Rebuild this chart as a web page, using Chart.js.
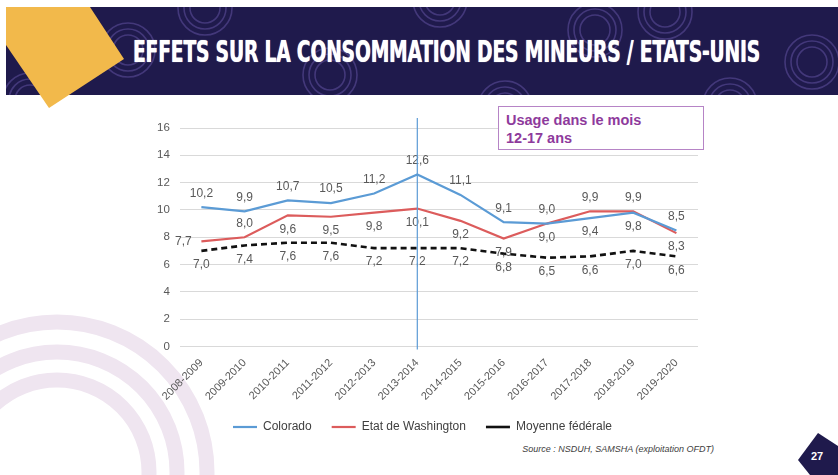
<!DOCTYPE html>
<html>
<head>
<meta charset="utf-8">
<script src="https://cdn.jsdelivr.net/npm/chart.js@4"></script>
<style>
  html, body { margin: 0; padding: 0; background: #fff; }
  body { width: 838px; height: 475px; position: relative; overflow: hidden; font-family: "Liberation Sans", Arial, sans-serif; }
  #bg { position: absolute; left: 0; top: 0; }
  #title {
    position: absolute; left: 133px; top: 33px; white-space: nowrap;
    font-family: "Liberation Sans Narrow", "DejaVu Sans Condensed", sans-serif;
    font-weight: bold; font-size: 31px; color: #fff; letter-spacing: -0.3px;
    transform-origin: 0 0; text-shadow: 0 0 1px #fff;
  }
  #box {
    position: absolute; left: 498px; top: 106px; width: 206px; height: 44px;
    border: 1.5px solid #b684c6; background: #fff;
    font-weight: bold; font-size: 14.5px; line-height: 18px; color: #8e3a9c;
    padding: 4px 0 0 7px; box-sizing: border-box; z-index: 2;
  }
  #wrap { position: absolute; left: 110px; top: 100px; width: 620px; height: 343px; z-index: 1; }
  #source {
    position: absolute; right: 124px; top: 444px; font-style: italic; font-size: 9px; color: #404040;
  }
  #page { position: absolute; left: 811px; top: 450px; color: #fff; font-weight: bold; font-size: 11px; }
</style>
</head>
<body>
<svg id="bg" width="838" height="475">
  <defs><clipPath id="band"><rect x="6" y="7" width="832" height="88"/></clipPath></defs>
  <rect x="6" y="7" width="832" height="88" fill="#1f1a4c"/>
  <g fill="none" stroke="#43387a" stroke-width="1.6" id="rings" clip-path="url(#band)"></g>
  <polygon points="6,7 90,7 124,59 49,108 6,45" fill="#f2b94b"/>
  <g fill="none" stroke="#efe5f0" stroke-width="15">
    <circle cx="57" cy="472" r="150"/>
    <circle cx="57" cy="472" r="120"/>
    <circle cx="57" cy="472" r="92"/>
  </g>
  <polygon points="818,433 838,446 838,475 810,475 798,460" fill="#1f1a4c"/>
</svg>
<div id="title">EFFETS SUR LA CONSOMMATION DES MINEURS / ETATS-UNIS</div>
<div id="box">Usage dans le mois<br>12-17 ans</div>
<div id="wrap"><canvas id="chart"></canvas></div>
<div id="source">Source : NSDUH, SAMSHA (exploitation OFDT)</div>
<div id="page">27</div>
<script>
const years = ['2008-2009', '2009-2010', '2010-2011', '2011-2012', '2012-2013', '2013-2014',
  '2014-2015', '2015-2016', '2016-2017', '2017-2018', '2018-2019', '2019-2020'];
const colorado = [10.2, 9.9, 10.7, 10.5, 11.2, 12.6, 11.1, 9.1, 9.0, 9.4, 9.8, 8.5];
const washington = [7.7, 8.0, 9.6, 9.5, 9.8, 10.1, 9.2, 7.9, 9.0, 9.9, 9.9, 8.3];
const federal = [7.0, 7.4, 7.6, 7.6, 7.2, 7.2, 7.2, 6.8, 6.5, 6.6, 7.0, 6.6];
const yTicks = [0, 2, 4, 6, 8, 10, 12, 14, 16];
const markerYear = '2013-2014';

// where each value label sits relative to its point: a = above, b = below, l = left
const labelSide = [
  ['a', 'a', 'a', 'a', 'a', 'a', 'a', 'a', 'a', 'b', 'b', 'a'],
  ['l', 'a', 'b', 'b', 'b', 'b', 'b', 'b', 'b', 'a', 'a', 'b'],
  ['b', 'b', 'b', 'b', 'b', 'b', 'b', 'b', 'b', 'b', 'b', 'b']
];

// faint rings in the banner
const rings = document.getElementById('rings');
[[128, 50], [205, 8], [330, 75], [440, 0], [505, 108], [595, 30], [665, 12], [730, 105], [812, 62], [30, 100]].forEach(c => {
  [15, 21, 27].forEach(r => {
    const el = document.createElementNS('http://www.w3.org/2000/svg', 'circle');
    el.setAttribute('cx', c[0]); el.setAttribute('cy', c[1]); el.setAttribute('r', r);
    rings.appendChild(el);
  });
});

// squeeze the title to the width it has on the slide
const title = document.getElementById('title');
title.style.transform = 'scaleX(' + (627 / title.offsetWidth) + ')';

const fmt = v => v.toFixed(1).replace('.', ',');

const valueLabels = {
  id: 'valueLabels',
  afterDatasetsDraw(chart) {
    const ctx = chart.ctx;
    ctx.save();
    ctx.font = '12px "Liberation Sans", Arial, sans-serif';
    ctx.fillStyle = '#595959';
    ctx.textAlign = 'center';
    ctx.textBaseline = 'middle';
    chart.data.datasets.forEach((ds, i) => {
      chart.getDatasetMeta(i).data.forEach((pt, j) => {
        const side = labelSide[i][j];
        let x = pt.x, y = pt.y;
        if (side === 'a') y -= 14;
        else if (side === 'b') y += 14;
        else x -= 18;
        ctx.fillText(fmt(ds.data[j]), x, y);
      });
    });
    ctx.restore();
  }
};

const markerLine = {
  id: 'markerLine',
  afterDraw(chart) {
    const x = chart.scales.x.getPixelForValue(years.indexOf(markerYear));
    const ctx = chart.ctx;
    ctx.save();
    ctx.strokeStyle = '#5b9bd5';
    ctx.lineWidth = 1.2;
    ctx.beginPath();
    ctx.moveTo(x, chart.chartArea.top - 10);
    ctx.lineTo(x, chart.chartArea.bottom + 3);
    ctx.stroke();
    ctx.restore();
  }
};

new Chart(document.getElementById('chart'), {
  type: 'line',
  data: {
    labels: years,
    datasets: [
      { label: 'Colorado', data: colorado, borderColor: '#5b9bd5', backgroundColor: '#5b9bd5', borderWidth: 2.2 },
      { label: 'Etat de Washington', data: washington, borderColor: '#dc5c5c', backgroundColor: '#dc5c5c', borderWidth: 2.2 },
      { label: 'Moyenne fédérale', data: federal, borderColor: '#111', backgroundColor: '#111', borderWidth: 2.6, borderDash: [6, 4] }
    ]
  },
  options: {
    responsive: true,
    maintainAspectRatio: false,
    animation: false,
    elements: { point: { radius: 0 }, line: { tension: 0 } },
    layout: { padding: { left: 37, right: 32, top: 28, bottom: 0 } },
    scales: {
      x: {
        offset: true,
        grid: { display: false },
        border: { display: false },
        afterFit: axis => { axis.height -= 4; },
        ticks: { color: '#595959', font: { size: 11 }, maxRotation: 45, minRotation: 45, padding: 2 }
      },
      y: {
        min: 0, max: 16,
        afterBuildTicks: axis => { axis.ticks = yTicks.map(v => ({ value: v })); },
        grid: { color: '#d9d9d9', drawTicks: false },
        border: { display: false },
        ticks: { color: '#595959', font: { size: 11.5 }, padding: 10 }
      }
    },
    plugins: {
      tooltip: { enabled: false },
      legend: {
        position: 'bottom',
        labels: {
          usePointStyle: true, pointStyleWidth: 24, pointStyle: 'line',
          color: '#404040', font: { size: 12 }, padding: 20
        }
      }
    }
  },
  plugins: [valueLabels, markerLine]
});
</script>
</body>
</html>
